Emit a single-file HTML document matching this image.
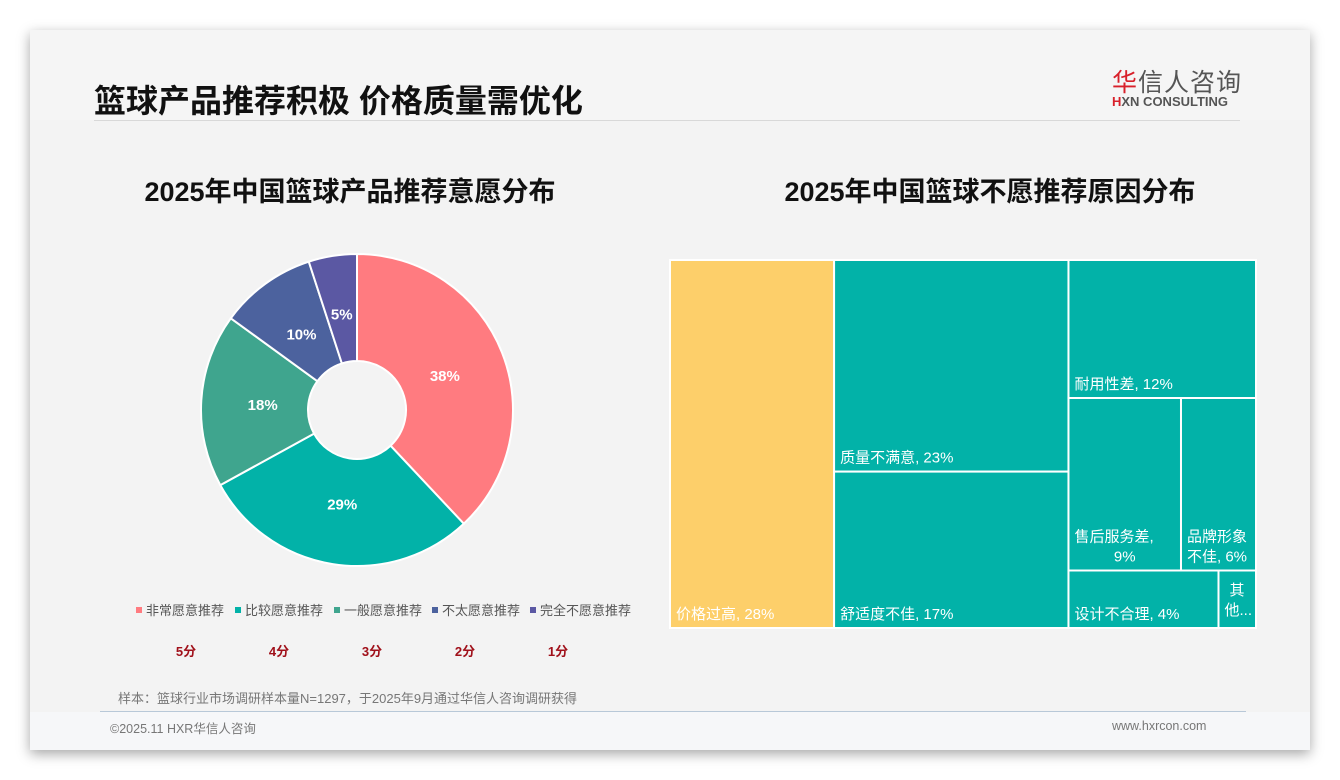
<!DOCTYPE html>
<html><head><meta charset="utf-8"><style>
body{margin:0;width:1340px;height:780px;background:#fff;font-family:"Liberation Sans","Noto Sans CJK SC",sans-serif;position:relative;overflow:hidden}
.card{position:absolute;left:30px;top:30px;width:1280px;height:720px;background:#f3f3f3;box-shadow:0 4px 12px rgba(0,0,0,.35)}
.abs{position:absolute}
</style></head><body>
<div class="card">
 <div class="abs" style="left:0;top:0;width:1280px;height:90px;background:#f5f5f5"></div>
 <div class="abs" style="left:64px;top:46px;font-size:32px;font-weight:bold;color:#111;white-space:nowrap">篮球产品推荐积极 价格质量需优化</div>
 <div class="abs" style="left:64px;top:90px;width:1146px;height:1px;background:#d8d8d8"></div>
 <div class="abs" style="left:1082px;top:33px;font-size:25px;color:#555;letter-spacing:1px"><span style="color:#d8202a">华</span>信人咨询</div>
 <div class="abs" style="left:1082px;top:64px;font-size:13px;font-weight:bold;color:#555"><span style="color:#d8202a">H</span>XN CONSULTING</div>
 <div class="abs" style="left:20px;top:140px;width:600px;text-align:center;font-size:27px;font-weight:bold;color:#111">2025年中国篮球产品推荐意愿分布</div>
 <div class="abs" style="left:660px;top:140px;width:600px;text-align:center;font-size:27px;font-weight:bold;color:#111">2025年中国篮球不愿推荐原因分布</div>
 <div class="abs" style="left:88px;top:658px;font-size:13px;color:#777;white-space:nowrap">样本：篮球行业市场调研样本量N=1297，于2025年9月通过华信人咨询调研获得</div>
 <div class="abs" style="left:0;top:682px;width:1280px;height:38px;background:#f6f7f9"></div>
 <div class="abs" style="left:70px;top:681px;width:1146px;height:1px;background:#b8c8d8"></div>
 <div class="abs" style="left:80px;top:688px;font-size:12.5px;color:#777">©2025.11 HXR华信人咨询</div>
 <div class="abs" style="left:1082px;top:689px;font-size:12.5px;color:#777">www.hxrcon.com</div>
</div>
<svg id="chart" class="abs" style="left:0;top:0" width="1340" height="780"></svg>
<script>
const donutLabels=["非常愿意推荐","比较愿意推荐","一般愿意推荐","不太愿意推荐","完全不愿意推荐"];
const donutValues=[38,29,18,10,5];
const donutScores=["5分","4分","3分","2分","1分"];
const donutColors=["#ff7b80","#02b2a8","#3fa58e","#4c629e","#5b58a3"];
const tmLabels=["价格过高","质量不满意","舒适度不佳","耐用性差","售后服务差,","品牌形象","设计不合理","其"];
const tmLabels2=["","","","","9%","不佳, 6%","",""];
const tmValues=[28,23,17,12,9,6,4,1];
const NS="http://www.w3.org/2000/svg";
const svg=document.getElementById('chart');
function mk(t,a,p){const e=document.createElementNS(NS,t);for(const k in a)e.setAttribute(k,a[k]);(p||svg).appendChild(e);return e;}
const cx=357,cy=410,R=156,r=49;
const total=donutValues.reduce((a,b)=>a+b,0);
let ang=0;
function pt(a,rad){return [cx+rad*Math.sin(a),cy-rad*Math.cos(a)];}
donutValues.forEach((v,i)=>{
 const a0=ang,a1=ang+v/total*2*Math.PI;ang=a1;
 const [x0,y0]=pt(a0,R),[x1,y1]=pt(a1,R),[x2,y2]=pt(a1,r),[x3,y3]=pt(a0,r);
 const lg=a1-a0>Math.PI?1:0;
 const p=mk('path',{d:`M${x0},${y0}A${R},${R} 0 ${lg} 1 ${x1},${y1}L${x2},${y2}A${r},${r} 0 ${lg} 0 ${x3},${y3}Z`,fill:donutColors[i],stroke:'#fff','stroke-width':2});
 
 
 const [lx,ly]=pt((a0+a1)/2,(R+r)/2+(v<8?-5:-8));
 const t=mk('text',{x:lx,y:ly+6,'text-anchor':'middle','font-size':15,'font-weight':'bold',fill:'#fff'});
 t.textContent=v+'%';
 
 
});
const legX=[138,237,336,434,532];
donutLabels.forEach((l,i)=>{
 const g=mk('g',{});
 
 
 mk('rect',{x:legX[i]-2,y:607,width:6,height:6,fill:donutColors[i]},g);
 const t=mk('text',{x:legX[i]+8,y:615,'font-size':13,fill:'#555'},g);t.textContent=l;
 const s=mk('text',{x:186+i*93,y:656,'font-size':13,'font-weight':'bold',fill:'#a0101a','text-anchor':'middle'});
 s.textContent=donutScores[i];
 
 
});
const X0=670,Y0=260,W=586,H=368;
const rects=[];
function sum(a){return a.reduce((s,i)=>s+tmValues[i],0);}
let x=X0;
const c1=sum([0])/sum([0,1,2,3,4,5,6,7])*W; rects[0]=[x,Y0,c1,H]; x+=c1;
const c2=sum([1,2])/sum([1,2,3,4,5,6,7])*(X0+W-x);
let y=Y0;[1,2].forEach(i=>{const h=tmValues[i]/sum([1,2])*H;rects[i]=[x,y,c2,h];y+=h;});x+=c2;
const rw=X0+W-x;y=Y0;
[[3],[4,5],[6,7]].forEach((row,k,all)=>{
 const rem=all.slice(k).flat();
 const h=sum(row)/sum(rem)*(Y0+H-y);let xx=x;
 row.forEach(i=>{const w=tmValues[i]/sum(row)*rw;rects[i]=[xx,y,w,h];xx+=w;});y+=h;
});
rects.forEach(([rx,ry,rw2,rh],i)=>{
 const e=mk('rect',{x:rx,y:ry,width:rw2,height:rh,fill:i==0?'#fdcf6a':'#02b2a8',stroke:'#fff','stroke-width':2});
 
 
 const t=mk('text',{x:rx+6,y:ry+rh-9,'font-size':15,fill:'#fff'});
 if(tmLabels2[i]){
  t.setAttribute('y',ry+rh-29);t.textContent=tmLabels[i];
  const t2=mk('text',{x:i==4?rx+rw2/2:rx+6,y:ry+rh-9,'font-size':15,fill:'#fff','text-anchor':i==4?'middle':'start'});t2.textContent=tmLabels2[i];
  
  
 } else if(i==7){
  t.setAttribute('y',ry+rh-33);t.setAttribute('x',rx+11);t.textContent='其';
  const t2=mk('text',{x:rx+6,y:ry+rh-13,'font-size':15,fill:'#fff'});t2.textContent='他...';
 } else t.textContent=tmLabels[i]+', '+tmValues[i]+'%';
 
 
});
</script>
</body></html>
